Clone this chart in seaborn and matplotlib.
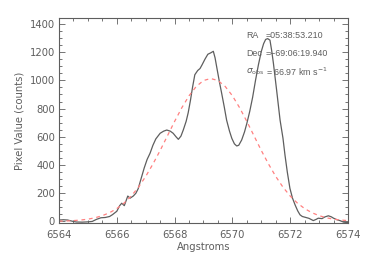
import numpy as np
import pandas as pd
import matplotlib
matplotlib.use("Agg")
import matplotlib.pyplot as plt
import seaborn as sns
from matplotlib.ticker import MultipleLocator

# Observed spectrum (Angstrom, counts)
obs_wave = [6564.00, 6564.15, 6564.30, 6564.45, 6564.60, 6564.80, 6565.00, 6565.15,
            6565.30, 6565.45, 6565.60, 6565.75, 6565.85, 6566.00, 6566.10, 6566.17,
            6566.26, 6566.38, 6566.46, 6566.57, 6566.66, 6566.74, 6566.85, 6566.95,
            6567.05, 6567.15, 6567.25, 6567.35, 6567.50, 6567.62, 6567.73, 6567.85,
            6567.95, 6568.05, 6568.13, 6568.22, 6568.30, 6568.40, 6568.47, 6568.55,
            6568.62, 6568.70, 6568.80, 6568.88, 6568.95, 6569.05, 6569.15, 6569.25,
            6569.34, 6569.40, 6569.47, 6569.55, 6569.63, 6569.72, 6569.80, 6569.90,
            6569.98, 6570.07, 6570.15, 6570.22, 6570.32, 6570.42, 6570.50, 6570.60,
            6570.70, 6570.80, 6570.90, 6571.00, 6571.08, 6571.15, 6571.22, 6571.30,
            6571.36, 6571.42, 6571.53, 6571.65, 6571.75, 6571.82, 6571.90, 6571.99,
            6572.08, 6572.17, 6572.26, 6572.34, 6572.42, 6572.51, 6572.65, 6572.80,
            6572.90, 6572.97, 6573.10, 6573.20, 6573.32, 6573.42, 6573.50, 6573.62,
            6573.72, 6573.85, 6574.00]
obs_counts = [10, 12, 10, 2, -4, -5, -3, 0,
              15, 26, 28, 35, 48, 72, 112, 129,
              112, 180, 165, 180, 200, 232, 310, 380,
              440, 483, 540, 585, 625, 640, 648, 640,
              625, 600, 582, 605, 648, 710, 770, 860,
              950, 1040, 1070, 1084, 1110, 1150, 1185, 1195,
              1206, 1160, 1080, 990, 907, 810, 718, 640,
              589, 550, 535, 540, 577, 635, 695, 780,
              880, 1000, 1110, 1205, 1260, 1290, 1296, 1285,
              1210, 1120, 931, 718, 590, 470, 350, 235,
              165, 117, 75, 47, 35, 30, 22, 6,
              15, 23, 20, 32, 40, 33, 23, 12,
              6, -5, -8]

# Fitted profile (red dashed)
fit_wave = [6564.00, 6564.25, 6564.50, 6564.75, 6565.00, 6565.25, 6565.50, 6565.75,
            6566.00, 6566.25, 6566.50, 6566.75, 6567.00, 6567.25, 6567.50, 6567.75,
            6568.00, 6568.25, 6568.50, 6568.75, 6569.00, 6569.25, 6569.50, 6569.75,
            6570.00, 6570.25, 6570.50, 6570.75, 6571.00, 6571.25, 6571.50, 6571.75,
            6572.00, 6572.25, 6572.50, 6572.75, 6573.00, 6573.25, 6573.50, 6573.75,
            6574.00]
fit_counts = [2, 3, 6, 10, 16, 26, 41, 62,
              91, 130, 180, 243, 319, 407, 503, 606,
              709, 806, 891, 957, 999, 1013, 999, 957,
              891, 806, 709, 606, 503, 407, 319, 243,
              180, 130, 91, 62, 41, 26, 16, 10,
              6]

x_ticks = [6564, 6566, 6568, 6570, 6572, 6574]
y_ticks = [0, 200, 400, 600, 800, 1000, 1200, 1400]

ann_names = ["RA", "Dec", r"$\sigma_{\rm obs}$"]
ann_values = ["=05:38:53.210", "=\u221269:06:19.940", r"= 66.97 km s$^{-1}$"]

sns.set_style("white")
plt.rcParams['font.family'] = ['DejaVu Sans']

ann_family = ['Liberation Sans', 'DejaVu Sans']
ann_size = 6.4

grey = "#5e5e5e"
fig = plt.figure(figsize=(3.66, 2.61), dpi=100)
ax = fig.add_axes([0.1612, 0.1467, 0.7896, 0.7832])

obs_df = pd.DataFrame({"wave": obs_wave, "counts": obs_counts})
fit_df = pd.DataFrame({"wave": fit_wave, "counts": fit_counts})

sns.lineplot(data=obs_df, x="wave", y="counts", ax=ax, color=grey, lw=0.9,
             estimator=None, sort=False)
sns.lineplot(data=fit_df, x="wave", y="counts", ax=ax, color="#ff8080", lw=0.9,
             estimator=None, sort=False, linestyle=(0, (3, 3)))

ax.set_xlim(6564, 6574)
ax.set_ylim(-9, 1440)
ax.set_xticks(x_ticks)
ax.set_xticklabels([str(t) for t in x_ticks])
ax.set_yticks(y_ticks)
ax.set_yticklabels([str(t) for t in y_ticks])
ax.xaxis.set_minor_locator(MultipleLocator(0.5))
ax.yaxis.set_minor_locator(MultipleLocator(50))

for s in ax.spines.values():
    s.set_color(grey)
    s.set_linewidth(0.8)

ax.tick_params(which="both", direction="in", top=True, right=True,
               bottom=True, left=True, color=grey, width=0.6,
               labelcolor=grey, labelsize=7.2)
ax.tick_params(which="major", length=4)
ax.tick_params(which="minor", length=2)
ax.tick_params(axis="x", which="major", pad=5)
ax.tick_params(axis="y", which="major", pad=3)

ax.set_xlabel("Angstroms", color=grey, fontsize=7.2, labelpad=2)
ax.set_ylabel("Pixel Value (counts)", color=grey, fontsize=7.2, labelpad=4)

for name, val, ypx in zip(ann_names, ann_values, [36, 54, 72]):
    fig.text(246 / 366, 1 - ypx / 261, name, color=grey, fontsize=ann_size,
             va="center", family=ann_family)
    fig.text(266 / 366, 1 - ypx / 261, val, color=grey, fontsize=ann_size,
             va="center", family=ann_family)

fig.savefig("out.png", dpi=100)
